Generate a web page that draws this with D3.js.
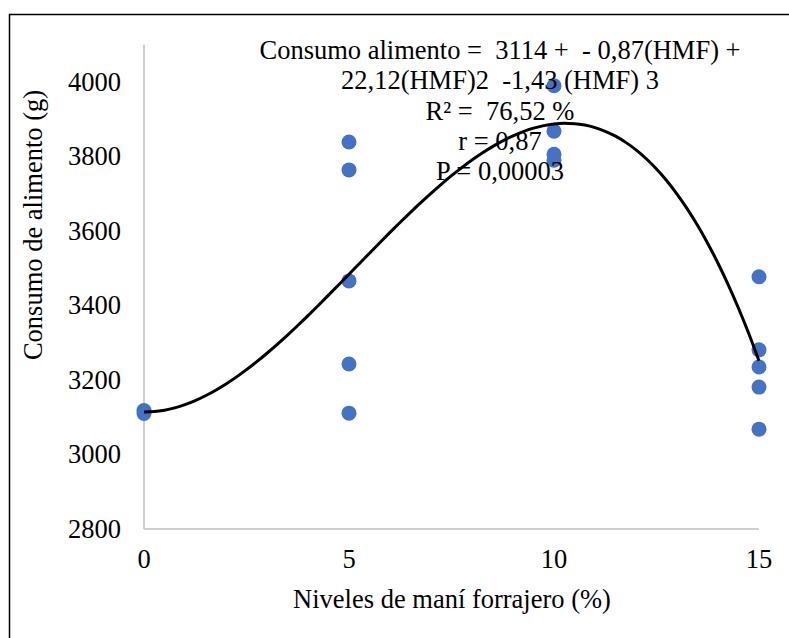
<!DOCTYPE html>
<html>
<head>
<meta charset="utf-8">
<script src="https://cdn.jsdelivr.net/npm/d3@7"></script>
<style>
  body { margin: 0; background: #fff; }
</style>
</head>
<body>
<div id="chart"></div>
<script>
// Data
const levels = [0, 0, 5, 5, 5, 5, 5, 10, 10, 10, 10, 15, 15, 15, 15, 15];
const consumption = [3118, 3110, 3839, 3764, 3466, 3243, 3111, 3990, 3868, 3806, 3790, 3477, 3281, 3235, 3181, 3068];
const xTicks = [0, 5, 10, 15];
const yTicks = [2800, 3000, 3200, 3400, 3600, 3800, 4000];
// trend coefficients shown on the chart: a + b x + c x^2 + d x^3
const trendCoefs = [3114, -0.87, 22.12, -1.43];
const equationLines = [
  "Consumo alimento =  3114 +  - 0,87(HMF) +",
  "22,12(HMF)2  -1,43 (HMF) 3",
  "R² =  76,52 %",
  "r = 0,87",
  "P = 0,00003"
];

const points = levels.map((x, i) => ({ x, y: consumption[i] }));

const serif = "Liberation Serif";
const fontSize = 26.5;

// Dimensions
const dimensions = { width: 789, height: 638 };

const svg = d3
  .select("#chart")
  .append("svg")
  .attr("width", dimensions.width)
  .attr("height", dimensions.height);

// Outer frame (right/bottom edges fall off the picture)
svg
  .append("rect")
  .attr("x", 9.5)
  .attr("y", 14.5)
  .attr("width", 800)
  .attr("height", 650)
  .attr("fill", "none")
  .attr("stroke", "#000")
  .attr("stroke-width", 1.5);

// Scales
const xScale = d3.scaleLinear().domain([0, 15]).range([144, 759]);
const yScale = d3.scaleLinear().domain([2800, 4000]).range([529, 82]);

// Axes lines
svg
  .append("line")
  .attr("x1", xScale(0))
  .attr("x2", xScale(0))
  .attr("y1", yScale(4100))
  .attr("y2", yScale(2800))
  .attr("stroke", "#bfbfbf")
  .attr("stroke-width", 1.5);

svg
  .append("line")
  .attr("x1", xScale(0))
  .attr("x2", xScale(15))
  .attr("y1", yScale(2800))
  .attr("y2", yScale(2800))
  .attr("stroke", "#bfbfbf")
  .attr("stroke-width", 1.5);

// Tick labels
svg
  .append("g")
  .selectAll("text")
  .data(yTicks)
  .join("text")
  .attr("x", 121)
  .attr("y", (d) => yScale(d))
  .attr("dy", "0.33em")
  .attr("text-anchor", "end")
  .attr("font-family", serif)
  .attr("font-size", fontSize)
  .text((d) => d);

svg
  .append("g")
  .selectAll("text")
  .data(xTicks)
  .join("text")
  .attr("x", (d) => xScale(d))
  .attr("y", 568)
  .attr("text-anchor", "middle")
  .attr("font-family", serif)
  .attr("font-size", fontSize)
  .text((d) => d);

// Axis titles
svg
  .append("text")
  .attr("transform", `translate(33, 225) rotate(-90)`)
  .attr("dy", "0.33em")
  .attr("text-anchor", "middle")
  .attr("font-family", serif)
  .attr("font-size", fontSize)
  .text("Consumo de alimento (g)");

svg
  .append("text")
  .attr("x", 452)
  .attr("y", 608)
  .attr("text-anchor", "middle")
  .attr("font-family", serif)
  .attr("font-size", fontSize)
  .text("Niveles de maní forrajero (%)");

// Points
svg
  .append("g")
  .selectAll("circle")
  .data(points)
  .join("circle")
  .attr("cx", (d) => xScale(d.x))
  .attr("cy", (d) => yScale(d.y))
  .attr("r", 7.5)
  .attr("fill", "#4472c4");

// Trend line from the printed polynomial
const trend = (x) => trendCoefs.reduce((s, c, i) => s + c * Math.pow(x, i), 0);
const trendPts = d3.range(0, 15.01, 0.25).map((x) => [x, trend(x)]);

svg
  .append("path")
  .datum(trendPts)
  .attr("fill", "none")
  .attr("stroke", "#000")
  .attr("stroke-width", 3)
  .attr("d", d3.line().x((d) => xScale(d[0])).y((d) => yScale(d[1])).curve(d3.curveMonotoneX));

// Equation label
svg
  .append("g")
  .selectAll("text")
  .data(equationLines)
  .join("text")
  .attr("x", 500)
  .attr("y", (d, i) => 59 + i * 30.3)
  .attr("text-anchor", "middle")
  .attr("font-family", serif)
  .attr("font-size", fontSize)
  .attr("xml:space", "preserve")
  .style("white-space", "pre")
  .text((d) => d);
</script>
</body>
</html>
